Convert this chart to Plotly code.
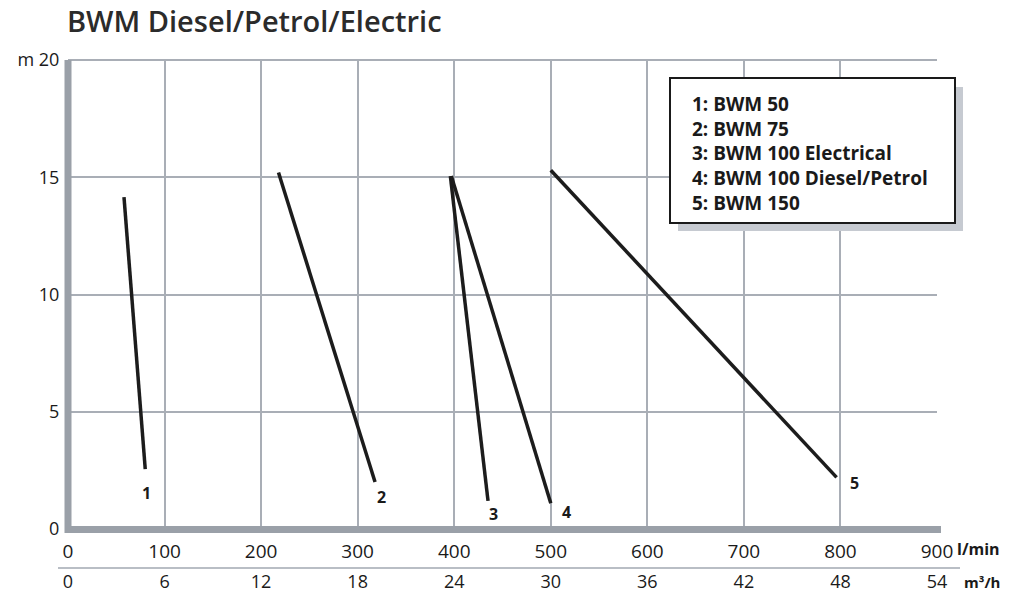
import plotly.graph_objects as go

# ---- data ----
series_names = ["1: BWM 50", "2: BWM 75", "3: BWM 100 Electrical",
                "4: BWM 100 Diesel/Petrol", "5: BWM 150"]
series_ids = ["1", "2", "3", "4", "5"]
flow_lmin = [[58, 80], [218, 318], [396, 435], [397, 500], [500, 796]]
head_m = [[14.15, 2.55], [15.2, 2.0], [15.05, 1.2], [15.05, 1.1], [15.3, 2.2]]

x_ticks = [0, 100, 200, 300, 400, 500, 600, 700, 800, 900]
x2_ticks = [0, 6, 12, 18, 24, 30, 36, 42, 48, 54]
y_ticks = [0, 5, 10, 15, 20]
y_ticktext = ["0", "5", "10", "15", "m 20"]

# ---- style ----
W, H = 1009, 594
ML, MR, MT, MB = 68, 72, 60, 25
plot_h = H - MT - MB
y_bottom_px = 529
ydom0 = (H - MB - y_bottom_px) / plot_h
plot_w = W - ML - MR

def px2x(px):
    return (px - ML) / plot_w

def px2y(py):
    return (H - MB - py) / plot_h

label_font = "Open Sans, Noto Sans, sans-serif"
grid_col = "#a9aeb6"
bar_col = "#9aa0a8"
line_col = "#1c1c1c"
text_col = "#1a1a1a"

label_offsets = [(1, -24), (6, -15), (5, -13), (16, -9), (18, -6)]

fig = go.Figure()
for name, xs, ys in zip(series_names, flow_lmin, head_m):
    fig.add_trace(go.Scatter(x=xs, y=ys, mode="lines", name=name,
                             line=dict(color=line_col, width=3.5),
                             showlegend=False, hoverinfo="skip"))

# invisible trace carrying the secondary (m³/h) axis
fig.add_trace(go.Scatter(x=[x2_ticks[0], x2_ticks[-1]], y=[0, 0], xaxis="x2", yaxis="y",
                         mode="markers", marker=dict(opacity=0),
                         showlegend=False, hoverinfo="skip"))

annotations = []
for sid, xs, ys, (dx, dy) in zip(series_ids, flow_lmin, head_m, label_offsets):
    annotations.append(dict(x=xs[-1], y=ys[-1], xref="x", yref="y", text=sid,
                            showarrow=False, xshift=dx, yshift=dy,
                            font=dict(family=label_font, size=16, color=text_col,
                                      weight="bold")))

# legend text (one block, one line per series)
annotations.append(dict(x=px2x(690), y=px2y(89), xref="paper", yref="paper",
                        text="<br>".join(series_names), showarrow=False,
                        xanchor="left", yanchor="top", align="left",
                        font=dict(family=label_font, size=19, color=text_col,
                                  weight="bold")))

# unit labels
annotations.append(dict(x=px2x(955), y=px2y(549), xref="paper", yref="paper",
                        text="l/min", showarrow=False, xanchor="left", yanchor="middle",
                        font=dict(family=label_font, size=16, color=text_col, weight="bold")))
annotations.append(dict(x=px2x(962), y=px2y(582), xref="paper", yref="paper",
                        text="m³/h", showarrow=False, xanchor="left", yanchor="middle",
                        font=dict(family=label_font, size=15, color=text_col, weight="bold")))

shapes = [
    # top grid line
    dict(type="line", xref="paper", yref="paper", x0=0, x1=1, y0=1, y1=1,
         line=dict(color=grid_col, width=2)),
    # legend shadow
    dict(type="rect", xref="paper", yref="paper", x0=px2x(678), x1=px2x(963),
         y0=px2y(231), y1=px2y(87), fillcolor="#c6cad1", line=dict(width=0), layer="above"),
    # legend box
    dict(type="rect", xref="paper", yref="paper", x0=px2x(670), x1=px2x(955),
         y0=px2y(223), y1=px2y(78), fillcolor="white",
         line=dict(color=text_col, width=2), layer="above"),
    # left thick bar
    dict(type="line", xref="paper", yref="paper", x0=0, x1=0,
         y0=px2y(533), y1=1, line=dict(color=bar_col, width=7)),
    # bottom thick bar
    dict(type="line", xref="paper", yref="paper", x0=px2x(65), x1=px2x(941),
         y0=px2y(529.5), y1=px2y(529.5), line=dict(color=bar_col, width=7)),
    # separator between the two scales
    dict(type="line", xref="paper", yref="paper", x0=px2x(58), x1=px2x(960),
         y0=px2y(568), y1=px2y(568), line=dict(color="#b9bec5", width=2)),
]

tickfont = dict(family=label_font, size=19, color=text_col)

fig.update_layout(
    width=W, height=H,
    margin=dict(l=ML, r=MR, t=MT, b=MB, autoexpand=False),
    paper_bgcolor="white", plot_bgcolor="white",
    title=dict(text="BWM Diesel/Petrol/Electric", x=67 / W,
               xanchor="left", xref="container", y=1 - 22 / H, yanchor="middle",
               yref="container",
               font=dict(family="Open Sans, sans-serif", size=29, color="#2b2b2b",
                         weight=600)),
    xaxis=dict(range=[0, 900], tickvals=x_ticks, showgrid=True, gridcolor=grid_col,
               gridwidth=2, zeroline=False, showline=False, anchor="y",
               ticks="outside", ticklen=5, tickcolor="rgba(0,0,0,0)",
               tickfont=tickfont),
    xaxis2=dict(range=[x2_ticks[0], x2_ticks[-1]], tickvals=x2_ticks, overlaying="x",
                anchor="free", position=0, side="bottom", showgrid=False,
                zeroline=False, showline=False, ticks="",
                tickfont=dict(family=label_font, size=18, color=text_col)),
    yaxis=dict(range=[0, 20], domain=[ydom0, 1], tickvals=y_ticks, ticktext=y_ticktext,
               showgrid=True, gridcolor=grid_col, gridwidth=2, zeroline=False,
               showline=False, ticks="outside", ticklen=4, tickcolor="rgba(0,0,0,0)",
               tickfont=dict(family=label_font, size=18, color=text_col)),
    annotations=annotations,
    shapes=shapes,
)

fig.write_html("out.html", config={"displayModeBar": False},
               post_script="document.body.style.margin='0';document.body.style.overflow='hidden';")
